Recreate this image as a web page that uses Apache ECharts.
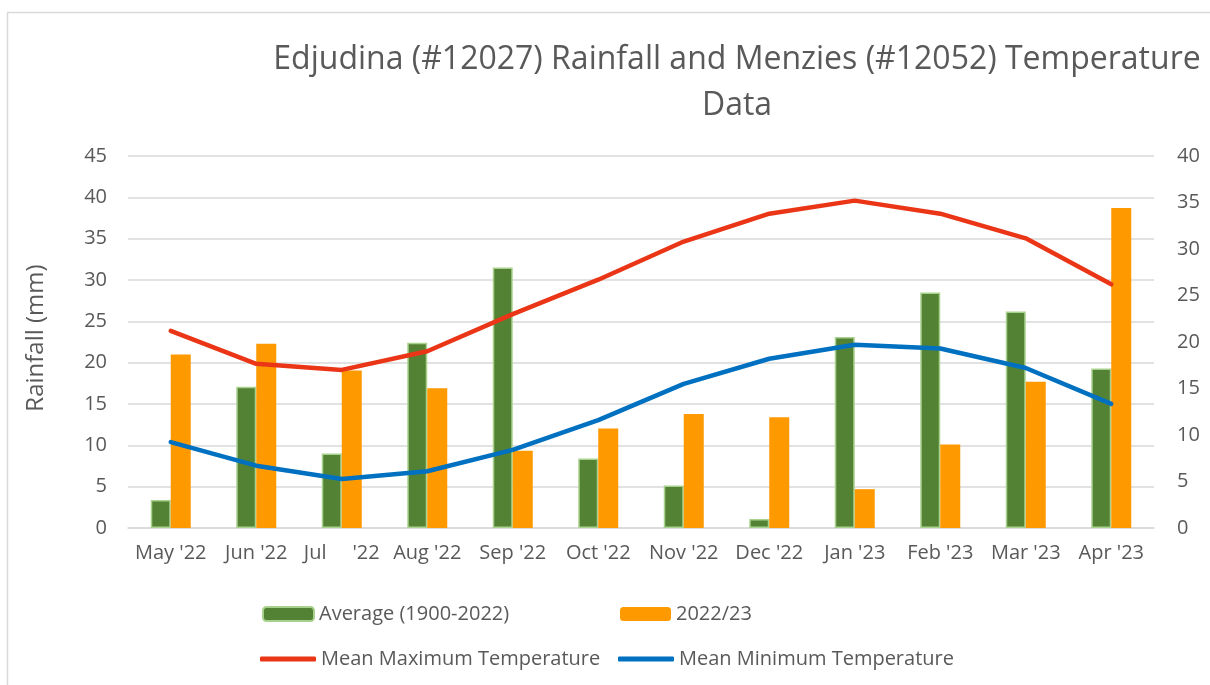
<!DOCTYPE html>
<html>
<head>
<meta charset="utf-8">
<script src="https://cdn.jsdelivr.net/npm/echarts@6/dist/echarts.min.js"></script>
<style>
html,body{margin:0;padding:0;background:#fff;}
#chart{width:1210px;height:685px;}
</style>
</head>
<body>
<div id="chart"></div>
<script>
const categories = ["May '22", "Jun '22", "Jul     '22", "Aug '22", "Sep '22", "Oct '22", "Nov '22", "Dec '22", "Jan '23", "Feb '23", "Mar '23", "Apr '23"];
const avgRain = [3.4, 17.1, 9.0, 22.4, 31.5, 8.4, 5.15, 1.1, 23.1, 28.5, 26.2, 19.3];
const rain2223 = [21.0, 22.3, 19.05, 16.9, 9.35, 12.05, 13.8, 13.4, 4.7, 10.1, 17.7, 38.7];
const maxTemp = [21.2, 17.65, 17.0, 19.0, 23.0, 26.7, 30.8, 33.8, 35.2, 33.8, 31.15, 26.2];
const minTemp = [9.24, 6.7, 5.26, 6.1, 8.4, 11.6, 15.5, 18.2, 19.7, 19.3, 17.2, 13.35];
const leftTicks = { min: 0, max: 45, interval: 5 };
const rightTicks = { min: 0, max: 40, interval: 5 };

const FONT = '"Open Sans"';
const GREY = '#595959';
const chart = echarts.init(document.getElementById('chart'), null, { renderer: 'canvas' });

const legendText = { color: GREY, fontSize: 20, fontFamily: FONT };

const option = {
  animation: false,
  backgroundColor: '#ffffff',
  textStyle: { fontFamily: FONT },
  graphic: [{
    type: 'rect',
    shape: { x: 7.5, y: 12.5, width: 1220, height: 700 },
    style: { fill: 'none', stroke: '#D9D9D9', lineWidth: 1.5 },
    silent: true, z: -10
  }],
  title: {
    text: 'Edjudina (#12027) Rainfall and Menzies (#12052) Temperature\nData',
    left: 737,
    top: 37,
    textAlign: 'center',
    padding: 0,
    textStyle: { color: GREY, fontSize: 32, fontWeight: 'normal', fontFamily: FONT, lineHeight: 46 }
  },
  grid: { left: 128, right: 56, top: 156, bottom: 157, containLabel: false },
  legend: [
    { data: ['Average (1900-2022)'], left: 262, top: 604, padding: 0, itemWidth: 51, itemHeight: 14, textStyle: legendText },
    { data: ['2022/23'], left: 620, top: 604, padding: 0, itemWidth: 51, itemHeight: 14, textStyle: legendText },
    { data: ['Mean Maximum Temperature'], left: 260, top: 649, padding: 0, itemWidth: 56, itemHeight: 5, icon: 'roundRect', textStyle: legendText },
    { data: ['Mean Minimum Temperature'], left: 618, top: 649, padding: 0, itemWidth: 56, itemHeight: 5, icon: 'roundRect', textStyle: legendText }
  ],
  xAxis: {
    type: 'category',
    data: categories,
    axisLine: { show: true, lineStyle: { color: '#D9D9D9', width: 1.5 } },
    axisTick: { show: false },
    axisLabel: { color: GREY, fontSize: 20, fontFamily: FONT, interval: 0, margin: 15 }
  },
  yAxis: [
    {
      type: 'value',
      min: leftTicks.min, max: leftTicks.max, interval: leftTicks.interval,
      name: 'Rainfall (mm)',
      nameLocation: 'middle',
      nameRotate: 90,
      nameGap: 80,
      nameTextStyle: { color: GREY, fontSize: 24, fontFamily: FONT, padding: [0, 0, 0, 8] },
      axisLine: { show: false },
      axisTick: { show: false },
      axisLabel: { color: GREY, fontSize: 20, fontFamily: FONT, margin: 21 },
      splitLine: { show: true, lineStyle: { color: '#D9D9D9', width: 1.5 } }
    },
    {
      type: 'value',
      position: 'right',
      min: rightTicks.min, max: rightTicks.max, interval: rightTicks.interval,
      axisLine: { show: false },
      axisTick: { show: false },
      axisLabel: { color: GREY, fontSize: 20, fontFamily: FONT, margin: 23 },
      splitLine: { show: false }
    }
  ],
  series: [
    {
      name: 'Average (1900-2022)',
      type: 'bar',
      yAxisIndex: 0,
      data: avgRain,
      barWidth: 20,
      barGap: '0%',
      itemStyle: { color: '#548235', borderColor: '#A9D18E', borderWidth: 1.5 }
    },
    {
      name: '2022/23',
      type: 'bar',
      yAxisIndex: 0,
      data: rain2223,
      barWidth: 20,
      barGap: '0%',
      itemStyle: { color: '#FF9900' }
    },
    {
      name: 'Mean Maximum Temperature',
      type: 'line',
      yAxisIndex: 1,
      data: maxTemp,
      symbol: 'none',
      lineStyle: { color: '#EA3617', width: 4.5, cap: 'round', join: 'round' },
      itemStyle: { color: '#EA3617' }
    },
    {
      name: 'Mean Minimum Temperature',
      type: 'line',
      yAxisIndex: 1,
      data: minTemp,
      symbol: 'none',
      lineStyle: { color: '#0070C0', width: 4.5, cap: 'round', join: 'round' },
      itemStyle: { color: '#0070C0' }
    }
  ]
};
chart.setOption(option);
</script>
</body>
</html>
